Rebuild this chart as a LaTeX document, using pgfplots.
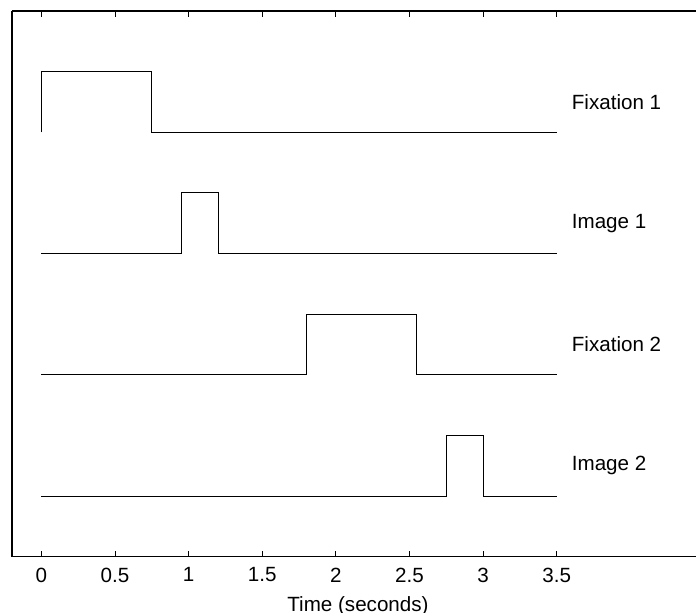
\documentclass[border=0pt]{standalone}
\usepackage{fontspec}
\setmainfont{Liberation Sans}
\usepackage{pgfplots}
\pgfplotsset{compat=1.18}
\begin{document}
\begin{tikzpicture}
\begin{axis}[
  scale only axis,
  width=346pt, height=272.85pt,
  xmin=-0.2, xmax=4.5, ymin=-1, ymax=8,
  axis x line=box, axis y line=left,
  axis line style={line width=0.75pt, -},
  xtick={0,0.5,1,1.5,2,2.5,3,3.5},
  xticklabels={0,0.5,1,1.5,2,2.5,3,3.5},
  ytick=\empty,
  tick align=inside,
  major tick length=2.8pt,
  tick style={black, line width=0.5pt},
  xticklabel style={font=\fontsize{10.3}{12}\selectfont, yshift=-2pt},
  xlabel={Time (seconds)},
  xlabel style={font=\fontsize{10.3}{12}\selectfont, yshift=0pt},
  clip=false,
]
\addplot[black, line width=0.5pt] coordinates {(0,6) (0,7) (0.75,7) (0.75,6) (3.5,6)};
\addplot[black, line width=0.5pt] coordinates {(0,4) (0.95,4) (0.95,5) (1.2,5) (1.2,4) (3.5,4)};
\addplot[black, line width=0.5pt] coordinates {(0,2) (1.8,2) (1.8,3) (2.55,3) (2.55,2) (3.5,2)};
\addplot[black, line width=0.5pt] coordinates {(0,0) (2.75,0) (2.75,1) (3,1) (3,0) (3.5,0)};
\node[anchor=west, inner sep=0pt, font=\fontsize{10.3}{12}\selectfont] at (axis cs:3.6,6.5) {Fixation 1};
\node[anchor=west, inner sep=0pt, font=\fontsize{10.3}{12}\selectfont] at (axis cs:3.6,4.5) {Image 1};
\node[anchor=west, inner sep=0pt, font=\fontsize{10.3}{12}\selectfont] at (axis cs:3.6,2.5) {Fixation 2};
\node[anchor=west, inner sep=0pt, font=\fontsize{10.3}{12}\selectfont] at (axis cs:3.6,0.5) {Image 2};
\end{axis}
\pgfresetboundingbox
\useasboundingbox ([xshift=-6pt,yshift=-28.15pt]current axis.south west) rectangle ([xshift=-4pt,yshift=5.5pt]current axis.north east);
\end{tikzpicture}
\end{document}
